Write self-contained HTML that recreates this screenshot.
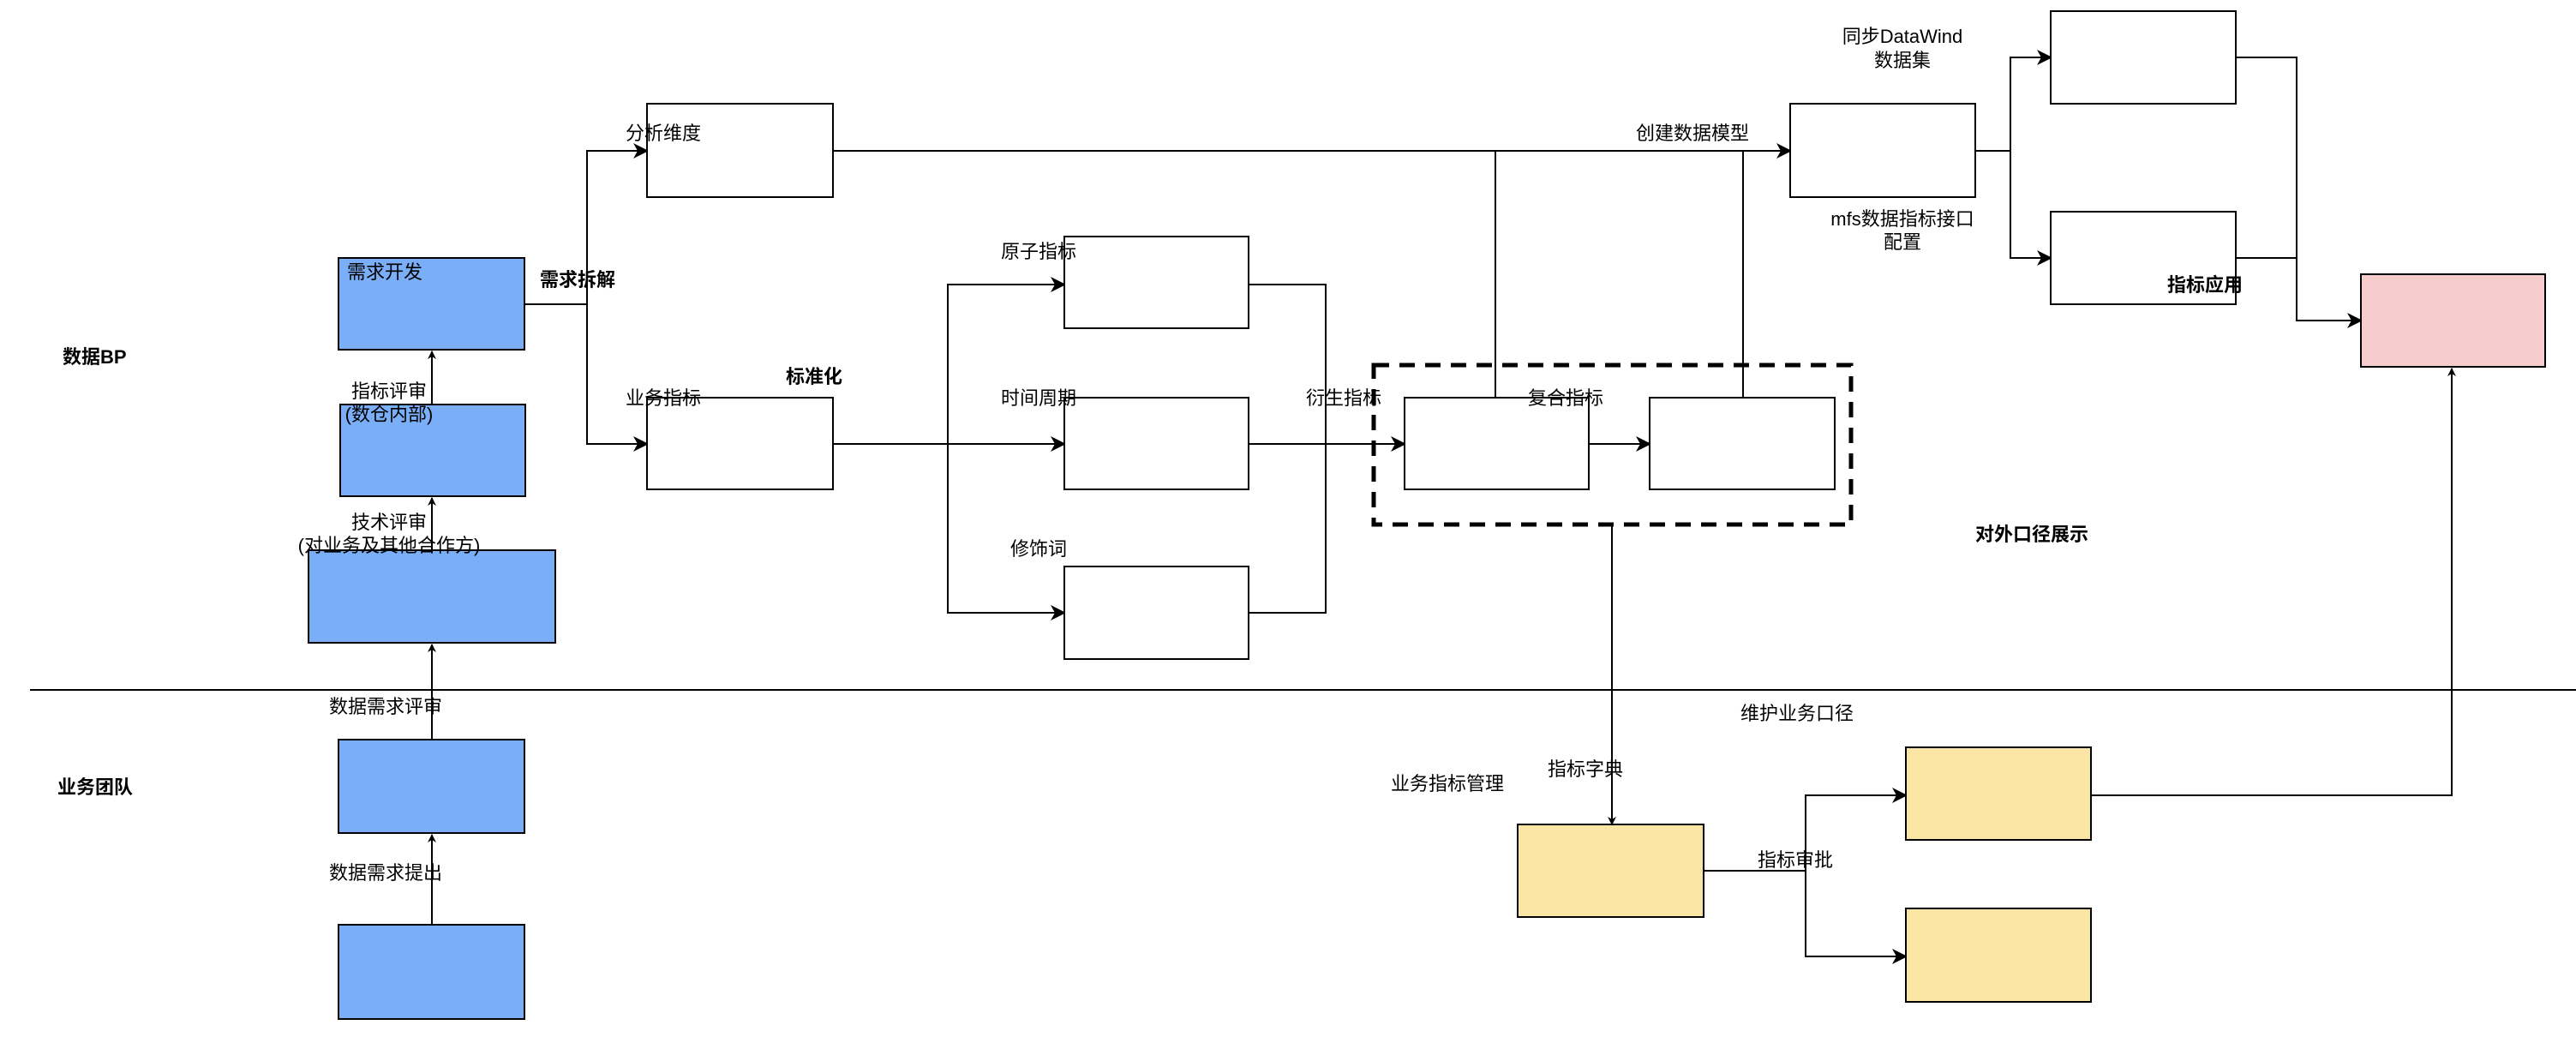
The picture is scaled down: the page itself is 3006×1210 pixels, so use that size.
<!DOCTYPE html>
<html><head><meta charset="utf-8"><style>
html,body{margin:0;padding:0;background:#fff;}
svg{display:block;}
text{font-family:"Liberation Sans","Noto Sans CJK SC",sans-serif;font-size:22px;fill:#000;}
.b{font-weight:bold;}
</style></head><body>
<svg width="3006" height="1210" viewBox="0 0 3006 1210" xmlns="http://www.w3.org/2000/svg">
<defs>
<marker id="a" markerWidth="10" markerHeight="10" refX="9" refY="5" orient="auto" markerUnits="userSpaceOnUse"><path d="M0,0 L10,5 L0,10 L3,5 z" fill="#000"/></marker>
<marker id="A" markerWidth="18" markerHeight="18" refX="16" refY="9" orient="auto" markerUnits="userSpaceOnUse"><path d="M0,0 L18,9 L0,18 L5,9 z" fill="#000"/></marker>
</defs>
<g stroke="#000" fill="none" stroke-width="2">
<!-- lane divider -->
<line x1="35" y1="805" x2="3006" y2="805" stroke-width="2"/>
<!-- vertical blue chain -->
<line x1="504" y1="1079" x2="504" y2="974" marker-end="url(#a)"/>
<line x1="504" y1="863" x2="504" y2="752" marker-end="url(#a)"/>
<line x1="504" y1="642" x2="504" y2="581" marker-end="url(#a)"/>
<line x1="504" y1="472" x2="504" y2="410" marker-end="url(#a)"/>
<!-- split -->
<polyline points="612,355 685,355"/>
<polyline points="685,355 685,176 755,176" marker-end="url(#A)"/>
<polyline points="685,355 685,518 755,518" marker-end="url(#A)"/>
<!-- 业务指标 to three -->
<polyline points="972,518 1106,518"/>
<polyline points="1106,518 1106,332 1242,332" marker-end="url(#A)"/>
<line x1="1106" y1="518" x2="1242" y2="518" marker-end="url(#A)"/>
<polyline points="1106,518 1106,715 1242,715" marker-end="url(#A)"/>
<polyline points="1457,332 1547,332 1547,715 1457,715"/>
<line x1="1457" y1="518" x2="1639" y2="518" marker-end="url(#A)"/>
<line x1="1854" y1="518" x2="1925" y2="518" marker-end="url(#A)"/>
<!-- top line -->
<line x1="972" y1="176" x2="2089" y2="176" marker-end="url(#A)"/>
<line x1="1745" y1="176" x2="1745" y2="464"/>
<line x1="2034" y1="176" x2="2034" y2="464"/>
<!-- right side -->
<line x1="2305" y1="176" x2="2346" y2="176"/>
<polyline points="2346,176 2346,67 2393,67" marker-end="url(#A)"/>
<polyline points="2346,176 2346,301 2393,301" marker-end="url(#A)"/>
<polyline points="2609,67 2680,67 2680,374 2755,374" marker-end="url(#A)"/>
<line x1="2609" y1="301" x2="2680" y2="301"/>
<!-- down to dictionary -->
<line x1="1881" y1="612" x2="1881" y2="962" marker-end="url(#a)"/>
<line x1="1988" y1="1016" x2="2107" y2="1016"/>
<polyline points="2107,1016 2107,928 2224,928" marker-end="url(#A)"/>
<polyline points="2107,1016 2107,1116 2224,1116" marker-end="url(#A)"/>
<polyline points="2440,928 2861,928 2861,430" marker-end="url(#a)"/>
</g>
<!-- boxes -->
<g stroke="#000" stroke-width="2">
<rect x="395" y="301" width="217" height="107" fill="#7aaff8"/>
<rect x="397" y="472" width="216" height="107" fill="#7aaff8"/>
<rect x="360" y="642" width="288" height="108" fill="#7aaff8"/>
<rect x="395" y="863" width="217" height="109" fill="#7aaff8"/>
<rect x="395" y="1079" width="217" height="110" fill="#7aaff8"/>
<rect x="755" y="121" width="217" height="109" fill="#fff"/>
<rect x="755" y="464" width="217" height="107" fill="#fff"/>
<rect x="1242" y="276" width="215" height="107" fill="#fff"/>
<rect x="1242" y="464" width="215" height="107" fill="#fff"/>
<rect x="1242" y="661" width="215" height="108" fill="#fff"/>
<rect x="1639" y="464" width="215" height="107" fill="#fff"/>
<rect x="1925" y="464" width="216" height="107" fill="#fff"/>
<rect x="2089" y="121" width="216" height="109" fill="#fff"/>
<rect x="2393" y="13" width="216" height="108" fill="#fff"/>
<rect x="2393" y="247" width="216" height="108" fill="#fff"/>
<rect x="2755" y="320" width="215" height="108" fill="#f6cdcc"/>
<rect x="1771" y="962" width="217" height="108" fill="#fae5a5"/>
<rect x="2224" y="872" width="216" height="108" fill="#fae5a5"/>
<rect x="2224" y="1060" width="216" height="109" fill="#fae5a5"/>
</g>
<rect x="1603" y="426" width="557" height="186" fill="none" stroke="#000" stroke-width="5" stroke-dasharray="18,12"/>
<!-- labels -->
<text x="73" y="424" class="b">数据BP</text>
<text x="67" y="926" class="b">业务团队</text>
<text x="405" y="325">需求开发</text>
<text x="454" y="464" text-anchor="middle">指标评审</text>
<text x="454" y="491" text-anchor="middle">(数仓内部)</text>
<text x="454" y="617" text-anchor="middle">技术评审</text>
<text x="454" y="644" text-anchor="middle">(对业务及其他合作方)</text>
<text x="450" y="832" text-anchor="middle">数据需求评审</text>
<text x="450" y="1026" text-anchor="middle">数据需求提出</text>
<text x="630" y="334" class="b">需求拆解</text>
<text x="730" y="163">分析维度</text>
<text x="730" y="472">业务指标</text>
<text x="917" y="447" class="b">标准化</text>
<text x="1212" y="301" text-anchor="middle">原子指标</text>
<text x="1212" y="472" text-anchor="middle">时间周期</text>
<text x="1212" y="648" text-anchor="middle">修饰词</text>
<text x="1568" y="472" text-anchor="middle">衍生指标</text>
<text x="1827" y="472" text-anchor="middle">复合指标</text>
<text x="1975" y="163" text-anchor="middle">创建数据模型</text>
<text x="2220" y="50" text-anchor="middle">同步DataWind</text>
<text x="2220" y="78" text-anchor="middle">数据集</text>
<text x="2220" y="263" text-anchor="middle">mfs数据指标接口</text>
<text x="2220" y="290" text-anchor="middle">配置</text>
<text x="2573" y="340" text-anchor="middle" class="b">指标应用</text>
<text x="2371" y="631" text-anchor="middle" class="b">对外口径展示</text>
<text x="2097" y="840" text-anchor="middle">维护业务口径</text>
<text x="1689" y="922" text-anchor="middle">业务指标管理</text>
<text x="1850" y="905" text-anchor="middle">指标字典</text>
<text x="2095" y="1011" text-anchor="middle">指标审批</text>
</svg>
</body></html>
